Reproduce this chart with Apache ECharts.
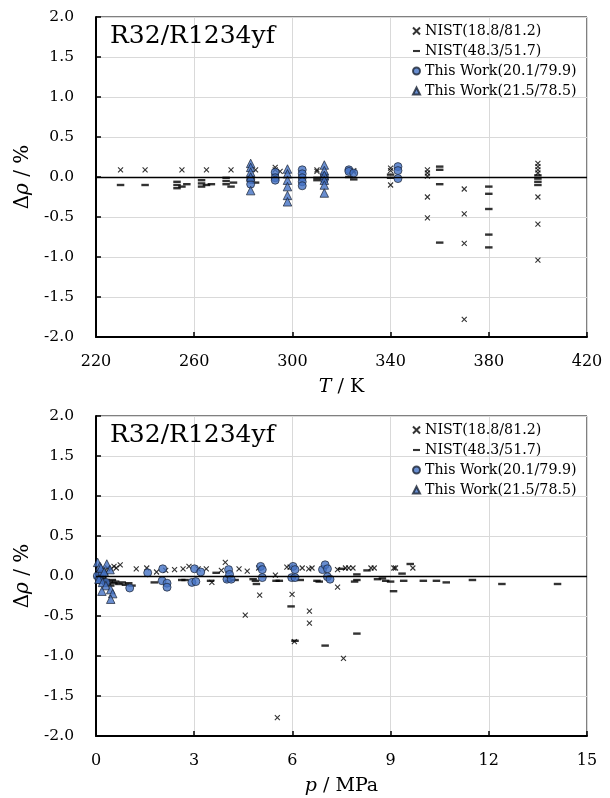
<!DOCTYPE html>
<html>
<head>
<meta charset="utf-8">
<script src="https://cdn.jsdelivr.net/npm/echarts@6/dist/echarts.min.js"></script>
<style>
  html, body { margin: 0; padding: 0; background: #fff; }
  #chart { width: 610px; height: 798px; }
</style>
</head>
<body>
<div id="chart"></div>
<script>
// Density deviations of R32/R1234yf against temperature (upper panel) and pressure (lower panel)
const seriesNames = ['NIST(18.8/81.2)', 'NIST(48.3/51.7)', 'This Work(20.1/79.9)', 'This Work(21.5/78.5)'];
const yTicks = [-2.0, -1.5, -1.0, -0.5, 0.0, 0.5, 1.0, 1.5, 2.0];
const tTicks = [220, 260, 300, 340, 380, 420];
const pTicks = [0, 3, 6, 9, 12, 15];

// [T / K, Δρ / %]
const nistA_T = [
  [230, 0.09], [240, 0.09], [255, 0.09], [265, 0.09], [275, 0.09], [285, 0.09],
  [293, 0.12], [293, 0.09], [295, 0.07], [310, 0.09], [310, 0.07],
  [325, 0.08], [325, 0.06], [340, 0.11], [340, 0.08], [340, -0.10],
  [355, 0.09], [355, 0.05], [355, 0.01], [355, -0.25], [355, -0.51],
  [370, -0.15], [370, -0.46], [370, -0.83], [370, -1.78],
  [400, 0.17], [400, 0.13], [400, 0.09], [400, 0.05], [400, -0.25], [400, -0.59], [400, -1.04]
];
const nistB_T = [
  [230, -0.10], [240, -0.10],
  [253, -0.06], [253, -0.10], [253, -0.14], [255, -0.12], [257, -0.09],
  [263, -0.04], [263, -0.08], [263, -0.12], [265, -0.10], [267, -0.09],
  [273, -0.01], [273, -0.05], [273, -0.09], [275, -0.12], [276, -0.07],
  [285, -0.07], [283, -0.02], [293, 0.03], [310, -0.04], [310, -0.01],
  [323, 0.00], [325, -0.03], [340, 0.03], [340, -0.01],
  [360, 0.13], [360, 0.09], [360, -0.09], [360, -0.82],
  [380, -0.12], [380, -0.21], [380, -0.40], [380, -0.72], [380, -0.88],
  [400, 0.02], [400, -0.02], [400, -0.06], [400, -0.10]
];
const workA_T = [
  [283, -0.03], [283, -0.09], [293, 0.06], [293, -0.01], [293, -0.04],
  [304, 0.09], [304, 0.04], [304, -0.01], [304, -0.06], [304, -0.11],
  [313, 0.01], [313, -0.03], [323, 0.09], [323, 0.07], [325, 0.05],
  [343, 0.13], [343, 0.08], [343, -0.02]
];
const workB_T = [
  [283, 0.17], [283, 0.12], [283, 0.06], [283, 0.00], [283, -0.17],
  [298, 0.10], [298, 0.04], [298, -0.04], [298, -0.12], [298, -0.23], [298, -0.31],
  [313, 0.15], [313, 0.08], [313, 0.02], [313, -0.04], [313, -0.10], [313, -0.20]
];

// [p / MPa, Δρ / %]
const nistA_P = [
  [0.05, 0.02], [0.10, 0.06], [0.15, -0.02], [0.20, 0.08], [0.25, -0.04], [0.30, 0.05],
  [0.35, 0.10], [0.46, 0.09], [0.55, 0.12], [0.62, 0.10], [0.74, 0.14],
  [1.23, 0.09], [1.55, 0.10], [1.85, 0.05], [2.13, 0.07], [2.40, 0.08], [2.66, 0.09],
  [2.84, 0.12], [3.12, 0.09], [3.37, 0.09], [3.54, -0.08], [3.83, 0.07], [3.95, 0.17],
  [4.37, 0.09], [4.56, -0.49], [4.62, 0.06], [4.97, 0.10], [5.00, -0.24],
  [5.48, 0.01], [5.54, -1.77], [5.83, 0.11], [5.93, 0.11], [5.99, -0.23], [6.06, -0.82],
  [6.30, 0.10], [6.50, 0.09], [6.52, -0.44], [6.52, -0.59], [6.60, 0.10],
  [7.38, 0.08], [7.38, -0.14], [7.56, -1.03], [7.62, 0.10], [7.72, 0.10], [7.85, 0.10],
  [8.40, 0.10], [8.50, 0.10], [9.10, 0.10], [9.15, 0.10], [9.68, 0.10]
];
const nistB_P = [
  [0.05, -0.02], [0.10, -0.04], [0.12, 0.01], [0.15, -0.06], [0.20, -0.03], [0.25, -0.08],
  [0.30, -0.05], [0.35, -0.10], [0.40, -0.07], [0.45, -0.12], [0.50, -0.05], [0.55, -0.09],
  [0.60, -0.07], [0.70, -0.10], [0.80, -0.08], [0.90, -0.11], [1.00, -0.09], [1.10, -0.12],
  [1.78, -0.08], [2.62, -0.05], [2.72, -0.05], [3.50, -0.06], [3.67, 0.04], [4.05, -0.06],
  [4.25, -0.05], [4.80, -0.04], [4.87, -0.06], [4.90, -0.10], [5.50, -0.06], [5.60, -0.06],
  [5.96, -0.38], [6.08, -0.81], [6.24, -0.05], [6.75, -0.06], [6.82, -0.07], [7.00, -0.87],
  [7.50, 0.09], [7.97, 0.02], [7.97, -0.05], [7.90, -0.07], [7.97, -0.72], [8.28, 0.07],
  [8.60, -0.04], [8.75, -0.03], [8.85, -0.06], [9.00, -0.07], [9.09, -0.19], [9.35, 0.03],
  [9.40, -0.06], [9.60, 0.15], [10.0, -0.06], [10.4, -0.06], [10.7, -0.08], [11.5, -0.05],
  [12.4, -0.10], [14.1, -0.10]
];
const workA_P = [
  [0.04, 0.00], [0.10, -0.05], [0.20, 0.03], [0.30, -0.08], [1.03, -0.15], [1.58, 0.04],
  [2.04, 0.09], [2.02, -0.06], [2.17, -0.09], [2.17, -0.14], [2.93, -0.08], [3.01, 0.09],
  [3.05, -0.07], [3.20, 0.05], [4.00, -0.04], [4.05, 0.08], [4.08, 0.02], [4.13, -0.04],
  [5.03, 0.12], [5.08, 0.08], [5.08, -0.02], [6.02, 0.12], [6.08, 0.08], [5.98, -0.02],
  [6.08, -0.02], [6.92, 0.08], [7.00, 0.14], [7.07, 0.09], [7.07, -0.01], [7.15, -0.04]
];
const workB_P = [
  [0.05, 0.17], [0.12, 0.12], [0.15, 0.10], [0.33, 0.15], [0.43, 0.08], [0.25, 0.05],
  [0.09, -0.04], [0.20, -0.08], [0.30, -0.12], [0.18, -0.19], [0.45, -0.17], [0.51, -0.22],
  [0.45, -0.29]
];

const FONT = 'DejaVu Serif';
const CROSS = 'path://M0,0L10,10M10,0L0,10';
const DASH_ICON = 'path://M0,0H10V3H0Z';

const blueFill = '#4472C4';
const markEdge = '#1c2433';

function yAxisFor(gridIndex) {
  return {
    type: 'value', gridIndex,
    min: yTicks[0], max: yTicks[yTicks.length - 1], interval: 0.5,
    name: '{n|Δ}{i|ρ}{n| / %}', nameLocation: 'middle', nameGap: 56,
    nameTextStyle: {
      fontFamily: FONT, fontSize: 20, color: '#000',
      rich: {
        n: { fontFamily: FONT, fontSize: 20, color: '#000' },
        i: { fontFamily: FONT, fontSize: 20, color: '#000', fontStyle: 'italic' }
      }
    },
    axisLine: { show: true, lineStyle: { color: '#000', width: 2 } },
    axisTick: { show: true, inside: true, length: 5, lineStyle: { color: '#000', width: 1.5 } },
    axisLabel: { fontFamily: FONT, fontSize: 15.5, color: '#000', margin: 22,
                 formatter: v => v.toFixed(1) },
    splitLine: { show: true, lineStyle: { color: '#d9d9d9', width: 1 } }
  };
}

function xAxisFor(gridIndex, ticks, nameRich) {
  return {
    type: 'value', gridIndex,
    min: ticks[0], max: ticks[ticks.length - 1], interval: ticks[1] - ticks[0],
    name: nameRich, nameLocation: 'middle', nameGap: 41,
    nameTextStyle: {
      fontFamily: FONT, fontSize: 19, color: '#000',
      rich: {
        n: { fontFamily: FONT, fontSize: 19, color: '#000' },
        i: { fontFamily: FONT, fontSize: 19, color: '#000', fontStyle: 'italic' }
      }
    },
    axisLine: { show: true, onZero: false, lineStyle: { color: '#000', width: 2 } },
    axisTick: { show: true, inside: true, length: 5, lineStyle: { color: '#000', width: 1.5 } },
    axisLabel: { fontFamily: FONT, fontSize: 16, color: '#000', margin: 17 },
    splitLine: { show: true, lineStyle: { color: '#d9d9d9', width: 1 } }
  };
}

function panelSeries(idx, a, b, c, d) {
  const common = { type: 'scatter', xAxisIndex: idx, yAxisIndex: idx, animation: false };
  return [
    Object.assign({}, common, {
      name: seriesNames[0], data: a, symbol: CROSS, symbolSize: 5,
      itemStyle: { color: 'rgba(0,0,0,0)', borderColor: '#000', borderWidth: 1.1 },
      markLine: {
        silent: true, symbol: 'none', label: { show: false },
        lineStyle: { color: '#000', width: 1.3, type: 'solid' },
        data: [{ yAxis: 0 }]
      }
    }),
    Object.assign({}, common, {
      name: seriesNames[1], data: b, symbol: 'rect', symbolSize: [7.5, 2.4],
      itemStyle: { color: '#000' }
    }),
    Object.assign({}, common, {
      name: seriesNames[2], data: c, symbol: 'circle', symbolSize: 8,
      itemStyle: { color: blueFill, borderColor: markEdge, borderWidth: 0.9 }
    }),
    Object.assign({}, common, {
      name: seriesNames[3], data: d, symbol: 'triangle', symbolSize: 8.5,
      itemStyle: { color: blueFill, borderColor: markEdge, borderWidth: 0.9 }
    })
  ];
}

function legendFor(top) {
  return {
    orient: 'vertical', left: 407, top, itemWidth: 7, itemHeight: 7, itemGap: 6,
    selectedMode: false, symbolKeepAspect: true,
    textStyle: { fontFamily: FONT, fontSize: 14.2, color: '#000', lineHeight: 14 },
    data: [
      { name: seriesNames[0], icon: CROSS },
      { name: seriesNames[1], icon: DASH_ICON },
      { name: seriesNames[2], icon: 'circle' },
      { name: seriesNames[3], icon: 'triangle' }
    ]
  };
}

const chart = echarts.init(document.getElementById('chart'), null, { renderer: 'canvas' });
chart.setOption({
  backgroundColor: '#fff',
  animation: false,
  title: [
    { text: 'R32/R1234yf', left: 105, top: 19,
      textStyle: { fontFamily: FONT, fontSize: 25, fontWeight: 'normal', color: '#000' } },
    { text: 'R32/R1234yf', left: 105, top: 418,
      textStyle: { fontFamily: FONT, fontSize: 25, fontWeight: 'normal', color: '#000' } }
  ],
  legend: [legendFor(19), legendFor(418)],
  grid: [
    { left: 96, right: 23, top: 17, height: 320, show: true, borderColor: '#000', borderWidth: 1 },
    { left: 96, right: 23, top: 416, height: 320, show: true, borderColor: '#000', borderWidth: 1 }
  ],
  xAxis: [
    xAxisFor(0, tTicks, '{i|T}{n| / K}'),
    xAxisFor(1, pTicks, '{i|p}{n| / MPa}')
  ],
  yAxis: [yAxisFor(0), yAxisFor(1)],
  series: [
    ...panelSeries(0, nistA_T, nistB_T, workA_T, workB_T),
    ...panelSeries(1, nistA_P, nistB_P, workA_P, workB_P)
  ]
});
</script>
</body>
</html>
